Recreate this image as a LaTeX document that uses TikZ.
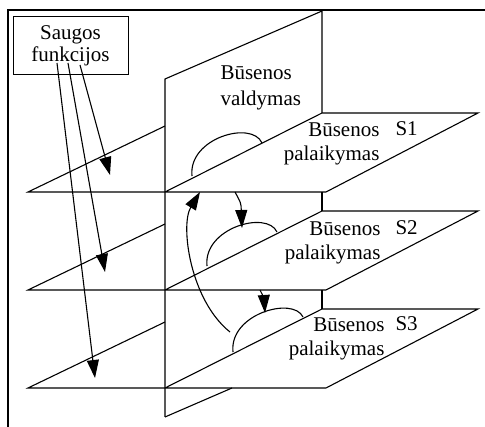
\documentclass[tikz,border=0pt]{standalone}
\usepackage{fontspec}
\setmainfont{Liberation Serif}
\usetikzlibrary{arrows.meta}

\begin{document}
\begin{tikzpicture}[x=1pt,y=-1pt,line width=1.1pt,
                >={Triangle[length=18pt,width=12pt]},
                lbl/.style={font=\fontsize{21}{24}\selectfont,inner sep=0pt}]
                \useasboundingbox (0,0) rectangle (485,427);

                % frame
                \draw[line width=2pt] (8,427) -- (8,10) -- (485,10);

                % vertical plane
                \draw (165,417) -- (165,79) -- (322,11) -- (322,113);
                \draw (322,192) -- (322,211);
                \draw (322,290) -- (322,309);
                \draw (165,417) -- (232,388);

                % S1
                \draw (165,126) -- (28,192) -- (326,192) -- (478,113) -- (322,113) -- (165,192);
                % S2
                \draw (165,224) -- (28,290) -- (326,290) -- (478,211) -- (322,211) -- (165,290);
                % S3
                \draw (165,322) -- (28,388) -- (326,388) -- (478,309) -- (322,309) -- (165,388);

                % domes
                \draw (192,176) .. controls (188,138) and (252,120) .. (262,143);
                \draw (207,266) .. controls (203,228) and (267,210) .. (277,232);
                \draw (233,352) .. controls (229,314) and (293,296) .. (303,317);

                % labels
                \node[lbl,draw,line width=1pt,align=center,minimum width=115pt,minimum height=58pt] (sauga) at (70.5,46) {Saugos\\[-2pt]funkcijos};
                \node[lbl,align=left,anchor=north west] (valdymas) at (220,65) {Būsenos\\[2pt]valdymas};
                \node[lbl,align=right,anchor=north east] (bs1) at (380,122) {Būsenos\\palaikymas};
                \node[lbl,anchor=base west] (s1) at (395,136) {S1};
                \node[lbl,align=right,anchor=north east] (bs2) at (381,221) {Būsenos\\palaikymas};
                \node[lbl,anchor=base west] (s2) at (395,235) {S2};
                \node[lbl,align=right,anchor=north east] (bs3) at (385,317) {Būsenos\\palaikymas};
                \node[lbl,anchor=base west] (s3) at (395,331) {S3};

                % safety arrows
                \coordinate (f1) at (80,65);
                \coordinate (f2) at (68,63);
                \coordinate (f3) at (57,63);
                \coordinate (p1) at (110,175);
                \coordinate (p2) at (105,272);
                \coordinate (p3) at (95,378);
                \draw[->] (f1) -- (p1);
                \draw[->] (f2) -- (p2);
                \draw[->] (f3) -- (p3);

                % transitions
                \coordinate (t1a) at (235,192);
                \coordinate (t1b) at (242,228);
                \coordinate (t2a) at (260,290);
                \coordinate (t2b) at (265,313);
                \coordinate (t3a) at (230,332);
                \coordinate (t3b) at (200,192);
                \draw[->] (t1a) .. controls (241,203) .. (t1b);
                \draw[->] (t2a) .. controls (264,298) .. (t2b);
                \draw[->] (t3a) .. controls (190,300) and (180,225) .. (t3b);
            \end{tikzpicture}
\end{document}
